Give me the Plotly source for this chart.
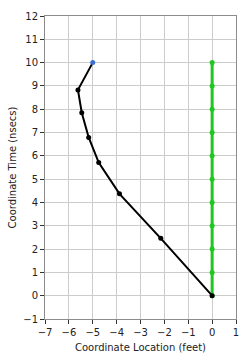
import plotly.graph_objects as go

path_x = [0, -2.15, -3.88, -4.75, -5.17, -5.46, -5.62]
path_y = [0, 2.46, 4.37, 5.71, 6.79, 7.85, 8.83]
end_x = [-5]
end_y = [10]
green_x = [0]*11
green_y = list(range(0, 11))

fig = go.Figure()
fig.add_trace(go.Scatter(x=green_x, y=green_y, mode="lines+markers",
                         line=dict(color="#1ec81e", width=3),
                         marker=dict(color="#1ec81e", size=5), showlegend=False))
fig.add_trace(go.Scatter(x=path_x + end_x, y=path_y + end_y, mode="lines",
                         line=dict(color="black", width=2), showlegend=False))
fig.add_trace(go.Scatter(x=path_x, y=path_y, mode="markers",
                         marker=dict(color="black", size=5), showlegend=False))
fig.add_trace(go.Scatter(x=end_x, y=end_y, mode="markers",
                         marker=dict(color="#3a6fd0", size=5), showlegend=False))

axis_common = dict(showgrid=True, gridcolor="#cccccc", gridwidth=1, zeroline=False,
                   showline=True, linecolor="#8c8c8c", linewidth=1, mirror=True,
                   ticks="outside", ticklen=4, tickcolor="#333", dtick=1,
                   tickfont=dict(family="DejaVu Sans", size=10, color="#222"))
fig.update_xaxes(range=[-7, 1], title=dict(text="Coordinate Location (feet)", standoff=6,
                 font=dict(family="DejaVu Sans", size=10, color="#222")), **axis_common)
fig.update_yaxes(range=[-1, 12], title=dict(text="Coordinate Time (nsecs)", standoff=4,
                 font=dict(family="DejaVu Sans", size=10, color="#222")), **axis_common)
fig.update_layout(width=249, height=361, margin=dict(l=45, r=12, t=10, b=40),
                  plot_bgcolor="white", paper_bgcolor="white")
fig.write_html("out.html")
